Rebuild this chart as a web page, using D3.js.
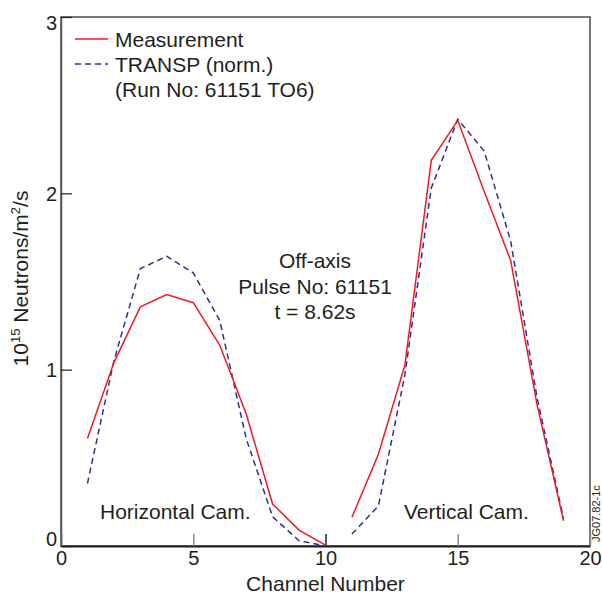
<!DOCTYPE html>
<html>
<head>
<meta charset="utf-8">
<script src="https://cdn.jsdelivr.net/npm/d3@7"></script>
<style>
  body { margin: 0; background: #fff; }
  svg text { font-family: "Liberation Sans", Arial, sans-serif; fill: #231f20; }
</style>
</head>
<body>
<svg id="chart" width="602" height="597"></svg>
<script>
// channel numbers for the two cameras
var horizChannels = [1, 2, 3, 4, 5, 6, 7, 8, 9, 10];
var vertChannels = [11, 12, 13, 14, 15, 16, 17, 18, 19];

// 10^15 neutrons/m2/s
var measHoriz = [0.61, 1.04, 1.356, 1.426, 1.38, 1.14, 0.75, 0.238, 0.09, 0.005];
var measVert = [0.163, 0.52, 1.025, 2.187, 2.414, 2.01, 1.62, 0.8, 0.143];
var transpHoriz = [0.355, 1.05, 1.573, 1.643, 1.549, 1.28, 0.61, 0.166, 0.03, 0.0];
var transpVert = [0.068, 0.227, 0.97, 2.03, 2.42, 2.24, 1.73, 0.84, 0.153];

var xTicks = [0, 5, 10, 15, 20];
var yTicks = [0, 1, 2, 3];

var legendItems = ["Measurement", "TRANSP (norm.)", "(Run No: 61151 TO6)"];
var infoLines = ["Off-axis", "Pulse No: 61151", "t = 8.62s"];

var red = "#ed1c24", blue = "#2e3192";
var fs = 21;

var margin = {top: 17, right: 12, bottom: 51, left: 61};
var svg = d3.select("#chart");
var width = +svg.attr("width") - margin.left - margin.right,
    height = +svg.attr("height") - margin.top - margin.bottom;

var g = svg.append("g").attr("transform", "translate(" + margin.left + "," + margin.top + ")");

var x = d3.scaleLinear().domain([0, 20]).range([0, width]);
var y = d3.scaleLinear().domain([0, 3]).range([height, 0]);

// frame
g.append("rect")
    .attr("width", width).attr("height", height)
    .attr("fill", "none").attr("stroke", "#231f20").attr("stroke-width", 1.2);

// x axis, ticks pointing inward
var xAxis = g.append("g")
    .attr("transform", "translate(0," + height + ")")
    .call(d3.axisBottom(x).tickValues(xTicks).tickFormat(d3.format("d")).tickSize(-12).tickSizeOuter(0));
xAxis.select(".domain").attr("stroke", "#231f20").attr("stroke-width", 2);
xAxis.selectAll(".tick line")
    .attr("stroke", function(d) { return d === 10 ? "#231f20" : "#888"; })
    .attr("stroke-width", 1.5);
xAxis.selectAll(".tick text")
    .attr("font-size", 20).attr("fill", "#231f20").attr("dy", "0.71em").attr("y", 5);

var yAxis = g.append("g")
    .call(d3.axisLeft(y).tickValues(yTicks).tickFormat(d3.format("d")).tickSize(-11).tickSizeOuter(0));
yAxis.select(".domain").attr("stroke", "#555").attr("stroke-width", 1.5);
yAxis.selectAll(".tick line").attr("stroke", "#231f20").attr("stroke-width", 1.2);
yAxis.selectAll(".tick text")
    .attr("font-size", 20).attr("fill", "#231f20").attr("x", -4)
    .attr("dy", function(d) { return d === 0 ? "-0.05em" : (d === 3 ? "0.6em" : "0.35em"); });
g.selectAll(".tick text").style("font-family", "'Liberation Sans', Arial, sans-serif");

// axis titles
svg.append("text")
    .attr("x", margin.left + width / 2).attr("y", 591)
    .attr("text-anchor", "middle").attr("font-size", fs)
    .text("Channel Number");

var yTitle = svg.append("text")
    .attr("transform", "translate(28," + (margin.top + height / 2 - 3) + ") rotate(-90)")
    .attr("text-anchor", "middle").attr("font-size", fs);
yTitle.append("tspan").text("10");
yTitle.append("tspan").attr("font-size", 13).attr("dy", -8).text("15");
yTitle.append("tspan").attr("dy", 8).text(" Neutrons/m");
yTitle.append("tspan").attr("font-size", 13).attr("dy", -8).text("2");
yTitle.append("tspan").attr("dy", 8).text("/s");

// data lines
var line = d3.line()
    .x(function(d) { return x(d[0]); })
    .y(function(d) { return y(d[1]); });

function pairs(xs, ys) { return xs.map(function(c, i) { return [c, ys[i]]; }); }

var series = [
  {data: pairs(horizChannels, transpHoriz), color: blue, dash: "6,4"},
  {data: pairs(vertChannels, transpVert), color: blue, dash: "6,4"},
  {data: pairs(horizChannels, measHoriz), color: red, dash: null},
  {data: pairs(vertChannels, measVert), color: red, dash: null}
];

g.selectAll(".series")
    .data(series)
    .enter().append("path")
    .attr("class", "series")
    .attr("fill", "none")
    .attr("stroke", function(d) { return d.color; })
    .attr("stroke-width", 1.5)
    .attr("stroke-dasharray", function(d) { return d.dash; })
    .attr("stroke-linejoin", "miter")
    .attr("d", function(d) { return line(d.data); });

// legend
var leg = svg.append("g");
leg.append("line").attr("x1", 75).attr("x2", 108).attr("y1", 39).attr("y2", 39)
    .attr("stroke", red).attr("stroke-width", 1.5);
leg.append("line").attr("x1", 75).attr("x2", 108).attr("y1", 64).attr("y2", 64)
    .attr("stroke", blue).attr("stroke-width", 1.5).attr("stroke-dasharray", "6,4");
leg.selectAll("text")
    .data(legendItems)
    .enter().append("text")
    .attr("x", 115).attr("y", function(d, i) { return 47 + i * 25; })
    .attr("font-size", fs)
    .text(function(d) { return d; });

// annotations
svg.selectAll(".info")
    .data(infoLines)
    .enter().append("text")
    .attr("class", "info")
    .attr("x", 315).attr("y", function(d, i) { return 268 + i * 25.5; })
    .attr("text-anchor", "middle").attr("font-size", fs)
    .text(function(d) { return d; });

svg.append("text").attr("x", 100).attr("y", 519).attr("font-size", fs).text("Horizontal Cam.");
svg.append("text").attr("x", 404).attr("y", 519).attr("font-size", fs).text("Vertical Cam.");

svg.append("text")
    .attr("transform", "translate(600,542) rotate(-90)")
    .attr("font-size", 11)
    .text("JG07.82-1c");
</script>
</body>
</html>
